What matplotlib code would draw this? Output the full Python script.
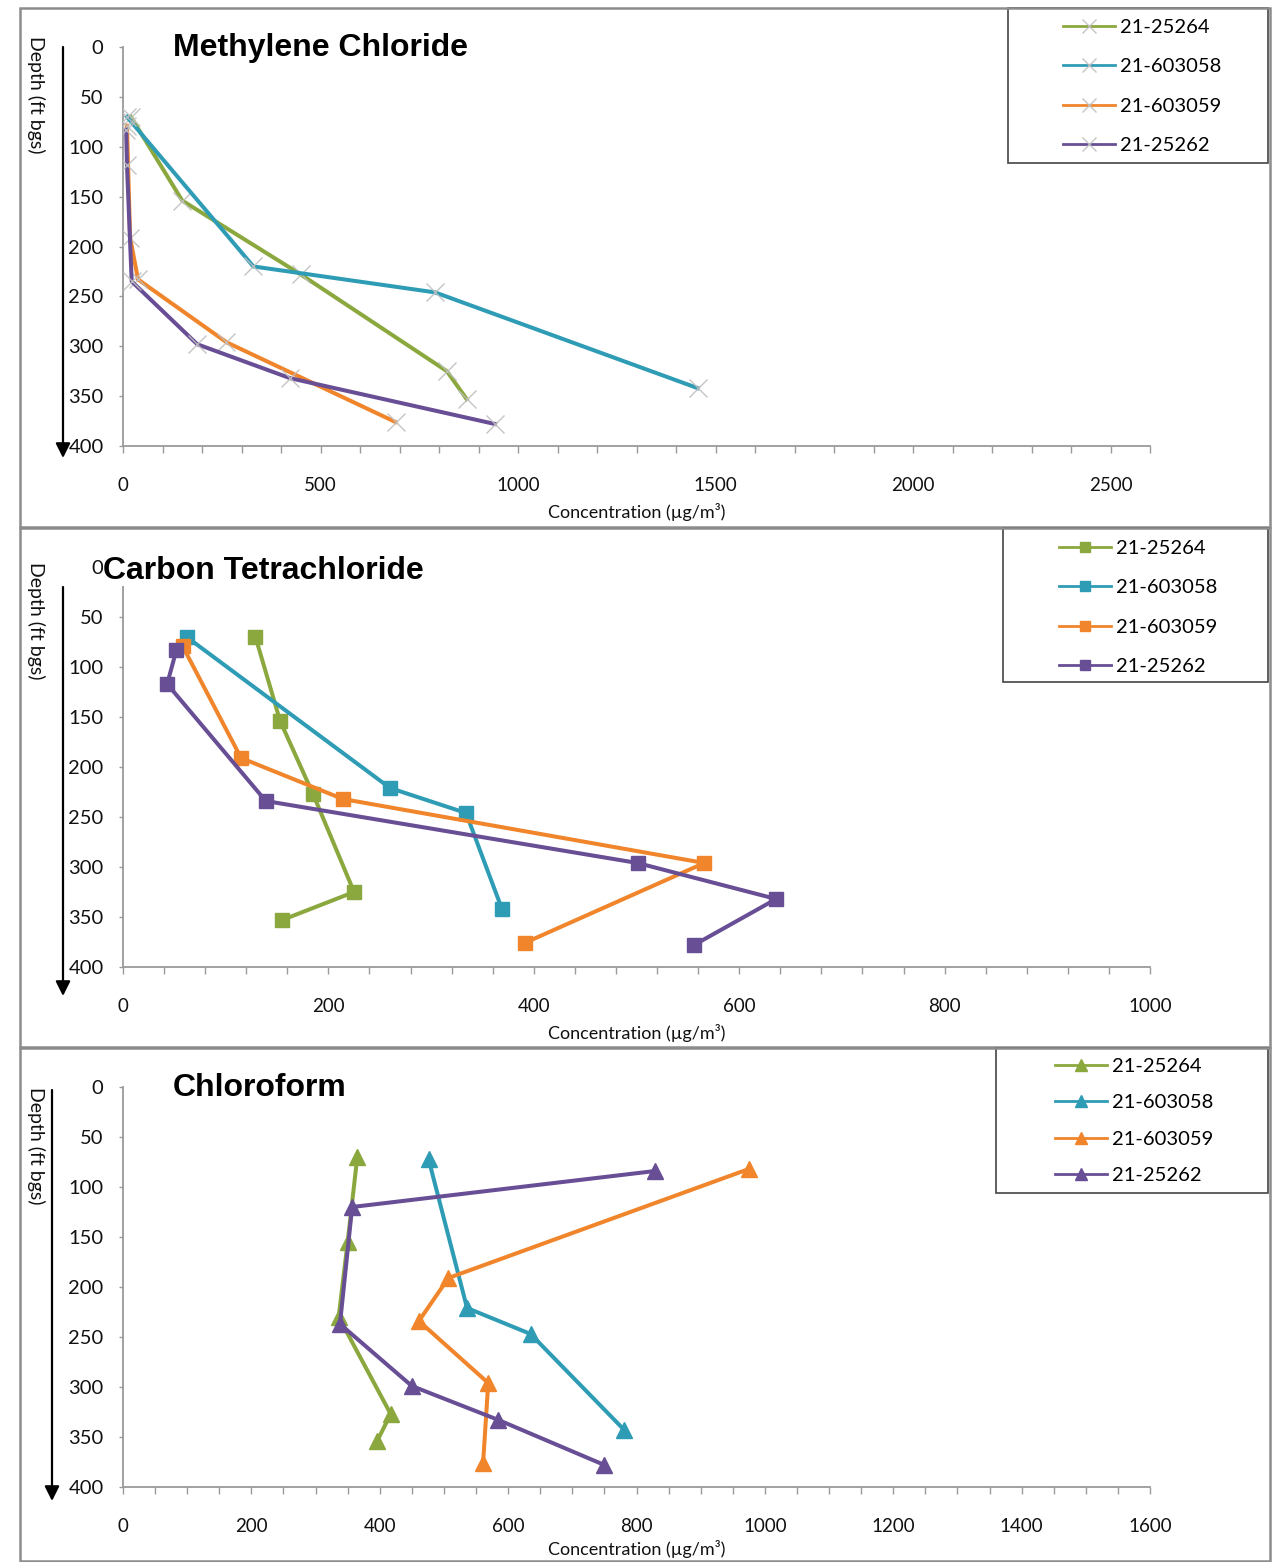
import matplotlib
matplotlib.use("Agg")
import matplotlib.pyplot as plt
from matplotlib.ticker import MultipleLocator
from matplotlib.patches import Rectangle, FancyArrowPatch
from matplotlib.lines import Line2D

plt.rcParams['font.family'] = ['Lato', 'DejaVu Sans']

# ---------------- data ----------------
series_names = ["21-25264", "21-603058", "21-603059", "21-25262"]
series_colors = ["#8BA83F", "#2F9CB5", "#F0852B", "#684E95"]

# Methylene Chloride
mc_depth_25264 = [70, 154, 228, 325, 353]
mc_conc_25264 = [20, 150, 450, 820, 870]
mc_depth_603058 = [70, 220, 246, 342]
mc_conc_603058 = [10, 330, 790, 1455]
mc_depth_603059 = [79, 191, 233, 296, 376]
mc_conc_603059 = [10, 18, 38, 262, 690]
mc_depth_25262 = [83, 118, 235, 298, 332, 378]
mc_conc_25262 = [8, 10, 22, 188, 423, 942]

# Carbon Tetrachloride
ct_depth_25264 = [70, 154, 227, 325, 353]
ct_conc_25264 = [129, 153, 185, 225, 155]
ct_depth_603058 = [70, 221, 246, 342]
ct_conc_603058 = [62, 260, 334, 369]
ct_depth_603059 = [79, 191, 232, 296, 376]
ct_conc_603059 = [58, 115, 214, 566, 391]
ct_depth_25262 = [83, 117, 234, 296, 332, 378]
ct_conc_25262 = [52, 43, 139, 501, 636, 556]

# Chloroform
cf_depth_25264 = [70, 155, 230, 327, 354]
cf_conc_25264 = [365, 350, 336, 417, 396]
cf_depth_603058 = [72, 221, 247, 343]
cf_conc_603058 = [476, 536, 635, 781]
cf_depth_603059 = [82, 191, 234, 296, 376]
cf_conc_603059 = [975, 507, 461, 569, 561]
cf_depth_25262 = [84, 120, 237, 299, 333, 378]
cf_conc_25262 = [829, 357, 338, 450, 585, 750]

titles = ["Methylene Chloride", "Carbon Tetrachloride", "Chloroform"]
x_label = "Concentration (µg/m³)"
y_label = "Depth (ft bgs)"

panels = [
    dict(title=titles[0],
         data=[(mc_conc_25264, mc_depth_25264), (mc_conc_603058, mc_depth_603058),
               (mc_conc_603059, mc_depth_603059), (mc_conc_25262, mc_depth_25262)],
         xmax=2600, major=500, minor=100, marker='x'),
    dict(title=titles[1],
         data=[(ct_conc_25264, ct_depth_25264), (ct_conc_603058, ct_depth_603058),
               (ct_conc_603059, ct_depth_603059), (ct_conc_25262, ct_depth_25262)],
         xmax=1000, major=200, minor=40, marker='s'),
    dict(title=titles[2],
         data=[(cf_conc_25264, cf_depth_25264), (cf_conc_603058, cf_depth_603058),
               (cf_conc_603059, cf_depth_603059), (cf_conc_25262, cf_depth_25262)],
         xmax=1600, major=200, minor=50, marker='^'),
]

# ---------------- layout (pixels) ----------------
W, H = 1277, 1562
fig = plt.figure(figsize=(W / 100, H / 100), dpi=100)

def fx(x):
    return x / W

def fy(y):
    return 1 - y / H

axes_px = [(123, 47, 1150, 446), (123, 567, 1150, 967), (123, 1087, 1150, 1487)]
frame_px = [(20, 8, 1270, 527), (20, 528, 1270, 1047), (20, 1048, 1270, 1561)]
legend_box_px = [(1008, 8, 1268, 163), (1003, 528, 1268, 682), (996, 1048, 1268, 1193)]
legend_anchor_px = [(1063, 19), (1059, 540), (1055, 1058)]
legend_spacing = [1.1, 1.1, 0.95]
title_px = [(173, 48), (103, 571), (173, 1088)]
arrow_px = [(63, 47, 458), (63, 587, 996), (52, 1090, 1501)]
ylabel_px = [(36, 95), (36, 621), (36, 1146)]
xlabel_pad = [7, 7, 4]

axis_grey = "#9a9a9a"

for i, p in enumerate(panels):
    x0, y0, x1, y1 = axes_px[i]
    ax = fig.add_axes([fx(x0), fy(y1), fx(x1) - fx(x0), fy(y0) - fy(y1)])
    handles = []
    for (conc, depth), name, col in zip(p['data'], series_names, series_colors):
        if p['marker'] == 'x':
            ax.plot(conc, depth, color=col, lw=2.9, marker='x', ms=13,
                    mew=1.0, mec=(0.75, 0.75, 0.75, 0.9), zorder=3)
            h = Line2D([], [], color=col, lw=2.0, marker='x', ms=10, mew=1.0,
                       mec=(0.75, 0.75, 0.75, 0.9))
        elif p['marker'] == 's':
            ax.plot(conc, depth, color=col, lw=2.9, marker='s', ms=10,
                    mec=col, mfc=col, zorder=3)
            h = Line2D([], [], color=col, lw=2.0, marker='s', ms=7, mec=col, mfc=col)
        else:
            ax.plot(conc, depth, color=col, lw=2.9, marker='^', ms=11,
                    mec=col, mfc=col, zorder=3)
            h = Line2D([], [], color=col, lw=2.0, marker='^', ms=8, mec=col, mfc=col)
        handles.append(h)

    ax.set_xlim(0, p['xmax'])
    ax.set_ylim(400, 0)
    ax.xaxis.set_major_locator(MultipleLocator(p['major']))
    ax.xaxis.set_minor_locator(MultipleLocator(p['minor']))
    ax.yaxis.set_major_locator(MultipleLocator(50))
    for s in ['top', 'right']:
        ax.spines[s].set_visible(False)
    for s in ['left', 'bottom']:
        ax.spines[s].set_color(axis_grey)
        ax.spines[s].set_linewidth(1.3)
    ax.tick_params(axis='x', which='both', direction='out', length=5, width=1,
                   color=axis_grey, pad=17, labelsize=13.5, labelcolor='#111111')
    ax.tick_params(axis='y', which='both', direction='out', length=3, width=1,
                   color=axis_grey, pad=11, labelsize=14.5, labelcolor='#111111')
    ax.set_xlabel(x_label, fontsize=13, labelpad=xlabel_pad[i], color='#111111')
    ax.patch.set_alpha(0)

    ax.legend(handles, series_names, loc='upper left',
              bbox_to_anchor=(fx(legend_anchor_px[i][0]), fy(legend_anchor_px[i][1])),
              bbox_transform=fig.transFigure, frameon=False, fontsize=14.5,
              handlelength=2.6, handletextpad=0.25, labelspacing=legend_spacing[i],
              borderpad=0, borderaxespad=0)

    # title
    tx, ty = title_px[i]
    fig.text(fx(tx), fy(ty), p['title'], fontsize=23, fontweight='bold',
             family=['Liberation Sans', 'DejaVu Sans'], va='center', ha='left',
             bbox=dict(facecolor='white', edgecolor='none', pad=0) if i == 1 else None,
             zorder=5)

    # y label
    lx, ly = ylabel_px[i]
    fig.text(fx(lx), fy(ly), y_label, rotation=270, fontsize=14, ha='center',
             va='center', color='#111111')

    # arrow
    axx, ay0, ay1 = arrow_px[i]
    fig.add_artist(FancyArrowPatch((fx(axx), fy(ay0)), (fx(axx), fy(ay1)),
                                   transform=fig.transFigure, arrowstyle='-|>',
                                   mutation_scale=22, lw=1.6, color='black',
                                   shrinkA=0, shrinkB=0))

    # legend box
    bx0, by0, bx1, by1 = legend_box_px[i]
    fig.add_artist(Rectangle((fx(bx0), fy(by1)), fx(bx1) - fx(bx0), fy(by0) - fy(by1),
                             transform=fig.transFigure, fill=False, ec='#444444', lw=1.2))

    # panel frame
    px0, py0, px1, py1 = frame_px[i]
    fig.add_artist(Rectangle((fx(px0), fy(py1)), fx(px1) - fx(px0), fy(py0) - fy(py1),
                             transform=fig.transFigure, fill=False, ec='#8c8c8c', lw=1.8))

fig.savefig("out.png", dpi=100)
